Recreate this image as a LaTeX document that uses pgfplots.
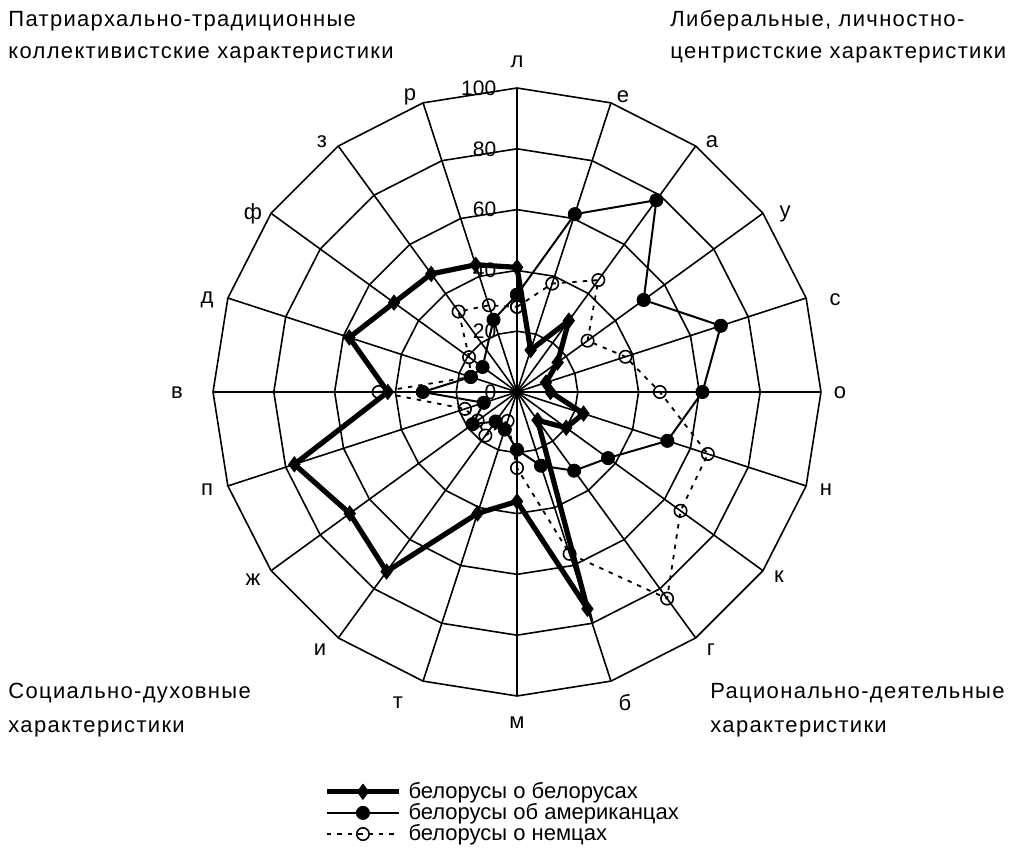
\documentclass[border=0pt]{standalone}
\usepackage{fontspec}
\setmainfont{Liberation Sans}
\newfontfamily\capfont{Liberation Sans}[LetterSpace=6]
\usepackage{pgfplots}
\pgfplotsset{compat=1.18}

\begin{document}
\begin{tikzpicture}[x=1pt,y=1pt]
% chart centre and scale (pt per unit)
\def\cx{258.5}\def\cy{232}\def\R{1.52}
\begin{scope}[shift={(\cx,\cy)}, line width=0.8pt]
  \foreach \r in {20,40,60,80,100}{
    \draw (90:{\r*\R}) \foreach \k in {1,...,19}{ -- ({90-18*\k}:{\r*\R})} -- cycle;
  }
  \foreach \k in {0,...,19} \draw (0,0) -- ({90-18*\k}:{100*\R});
  \foreach \r in {0,20,40,60,80,100}
    \node[anchor=east, inner sep=0pt, font=\fontsize{10.5}{12}\selectfont] at (-10,{\r*\R}) {\r};
\end{scope}

% category labels
\begin{scope}[every node/.style={inner sep=0pt, font=\fontsize{11}{13}\selectfont}]
  \node at (258.5,397) {л};
  \node at (311.5,379.5) {е};
  \node at (356,357) {а};
  \node at (392.5,321) {у};
  \node at (417.5,278) {с};
  \node at (420,231.5) {о};
  \node at (413,183) {н};
  \node at (389.5,139.5) {к};
  \node at (355.5,103) {г};
  \node at (312.5,76.5) {б};
  \node at (258.5,66.5) {м};
  \node at (199,76.5) {т};
  \node at (160,103) {и};
  \node at (126.5,138) {ж};
  \node at (103.5,183) {п};
  \node at (88.5,231.5) {в};
  \node at (103.5,278) {д};
  \node at (126.5,321) {ф};
  \node at (161,357) {з};
  \node at (205,379.5) {р};
\end{scope}

% group captions
\begin{scope}[every node/.style={inner sep=0pt, anchor=base west, font=\capfont\fontsize{11}{13}\selectfont}]
  \node at (4,414.5) {Патриархально-традиционные};
  \node at (4,398.5) {коллективистские характеристики};
  \node at (335,414.5) {Либеральные, личностно-};
  \node at (335,398.5) {центристские характеристики};
  \node at (4,78.5) {Социально-духовные};
  \node at (4,61.5) {характеристики};
  \node at (355,78.5) {Рационально-деятельные};
  \node at (355,61.5) {характеристики};
\end{scope}

\begin{axis}[
    at={(258.5pt,232pt)}, anchor=center,
    x=1.52pt, y=1.52pt,
    xmin=-110, xmax=110, ymin=-110, ymax=110,
    hide axis, clip=false,
    legend style={at={(axis cs:-63.5,-127.9)}, anchor=north west,
      draw=none, fill=none, inner sep=0pt, row sep=0pt, column sep=3pt,
      nodes={inner sep=0.5pt}, font=\fontsize{11}{13}\selectfont},
    legend cell align=left,
    legend image code/.code={\draw[mark repeat=2,mark phase=2,#1] plot coordinates {(0pt,0pt) (18pt,0pt) (36pt,0pt)};},
]
% белорусы о белорусах
\addplot[black, line width=2.6pt, mark=diamond*, mark size=3.8pt,
  mark options={solid, line width=0.4pt}, data cs=polar] coordinates {
  (90,41) (72,14.5) (54,29) (36,16.5) (18,10) (0,11)
  (-18,23) (-36,20) (-54,11.5) (-72,75) (-90,36) (-108,42)
  (-126,73) (-144,68) (-162,77) (-180,42.5) (-198,58) (-216,50)
  (-234,48) (-252,44) (-270,41)
};
\addlegendentry{белорусы о белорусах}

% белорусы об американцах
\addplot[black, line width=1pt, mark=*, mark size=3.3pt,
  mark options={solid, line width=0.4pt}, data cs=polar] coordinates {
  (90,32) (72,61.5) (54,78) (36,51.5) (18,70.5) (0,61)
  (-18,52) (-36,37) (-54,32) (-72,25.5) (-90,19) (-108,13)
  (-126,12) (-144,18) (-162,11.5) (-180,31) (-198,16) (-216,14)
  (-252,25) (-270,32)
};
\addlegendentry{белорусы об американцах}

% белорусы о немцах
\addplot[black, line width=0.9pt, dash pattern=on 2.2pt off 3pt, mark=o, mark size=3.1pt,
  mark options={solid, line width=0.8pt}, data cs=polar] coordinates {
  (90,28) (72,37.5) (54,45.5) (36,28.7) (18,37.5) (0,47)
  (-18,66) (-36,66.5) (-54,84) (-72,56) (-90,25) (-108,10)
  (-126,17.7) (-144,16) (-162,18) (-180,45.5) (-198,16) (-216,19.5)
  (-234,32.7) (-252,30) (-270,28)
};
\addlegendentry{белорусы о немцах}
\end{axis}
\pgfresetboundingbox
\path (0,0) rectangle (507,428);
\end{tikzpicture}
\end{document}
